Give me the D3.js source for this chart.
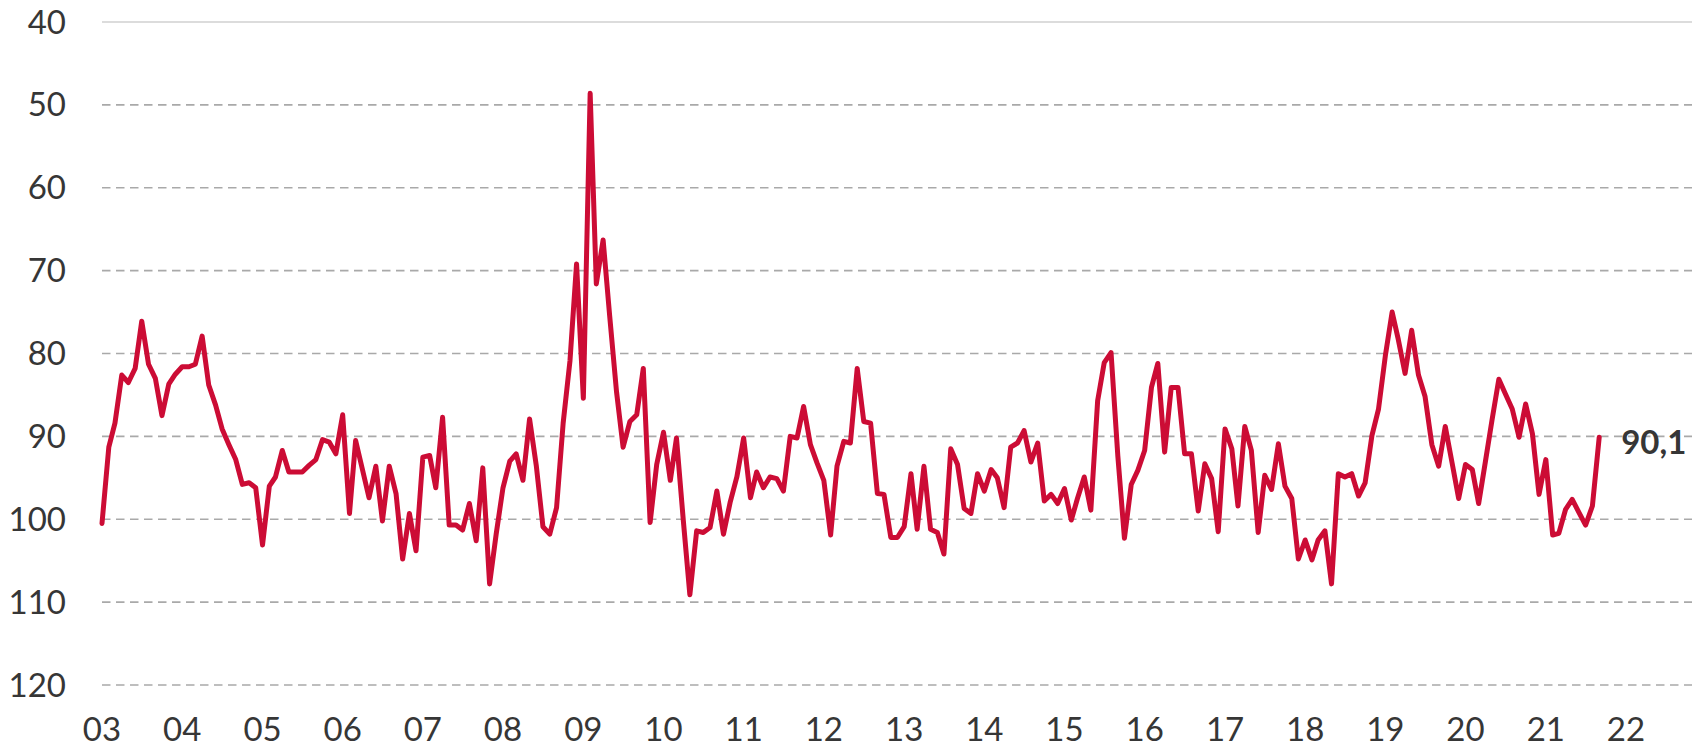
<!DOCTYPE html>
<html><head><meta charset="utf-8">
<script src="https://cdn.jsdelivr.net/npm/d3@7/dist/d3.min.js"></script>
<style>
body{margin:0;background:#fff;}
svg{display:block;font-family:Lato,"Open Sans",sans-serif;}
</style>
</head><body>
<svg id="chart" width="1692" height="751"></svg>
<script>
// Monthly values, Jan 2003 onward
const startYear = 2003;
const values = [
100.5,91.3,88.4,82.6,83.5,81.8,76.1,81.3,83.0,87.5,83.7,82.5,
81.6,81.6,81.3,77.9,83.8,86.2,89.1,91.0,92.8,95.8,95.6,96.2,
103.1,96.0,94.9,91.7,94.3,94.3,94.3,93.5,92.8,90.4,90.7,92.1,
87.4,99.3,90.5,94.0,97.4,93.6,100.2,93.6,96.9,104.8,99.3,103.8,
92.5,92.3,96.2,87.7,100.7,100.7,101.3,98.1,102.6,93.8,107.8,101.8,
96.2,93.0,92.1,95.3,87.9,93.6,100.9,101.8,98.6,88.4,80.9,69.2,
85.4,48.6,71.6,66.3,75.5,84.6,91.3,88.2,87.4,81.8,100.4,93.4,
89.5,95.3,90.2,100.1,109.1,101.4,101.6,101.0,96.6,101.8,97.9,94.9,
90.2,97.4,94.3,96.2,94.9,95.1,96.6,90.0,90.2,86.4,91.0,93.2,
95.3,101.9,93.6,90.6,90.8,81.8,88.2,88.4,96.9,97.0,102.2,102.2,
100.9,94.5,101.2,93.6,101.2,101.6,104.2,91.5,93.4,98.7,99.3,94.5,
96.6,94.0,95.0,98.6,91.3,90.8,89.3,93.1,90.8,97.8,97.0,98.1,
96.3,100.1,97.5,94.9,98.9,85.7,81.1,79.9,92.4,102.3,95.8,94.1,
91.7,84.1,81.2,91.9,84.1,84.1,92.1,92.1,99.0,93.3,95.1,101.5,
89.1,91.5,98.4,88.8,91.7,101.6,94.7,96.4,90.9,96.0,97.5,104.8,
102.5,104.9,102.5,101.4,107.8,94.5,94.9,94.5,97.2,95.6,89.9,86.7,
80.3,75.0,78.3,82.4,77.2,82.6,85.2,91.0,93.6,88.8,93.2,97.5,
93.4,94.0,98.1,93.0,88.0,83.1,84.9,86.7,90.1,86.1,89.7,97.0,
92.8,101.9,101.7,98.8,97.6,99.2,100.7,98.4,90.1
];
const yTicks = [40,50,60,70,80,90,100,110,120];
const xTickYears = [2003,2004,2005,2006,2007,2008,2009,2010,2011,2012,2013,2014,2015,2016,2017,2018,2019,2020,2021,2022];
const xTickLabels = ["03","04","05","06","07","08","09","10","11","12","13","14","15","16","17","18","19","20","21","22"];
const lastLabel = "90,1";

const W = 1692, H = 751;
const plotLeft = 102, plotRight = 1692, xEnd = 1626;
const svg = d3.select("#chart");

const data = values.map((v,i)=>({date:new Date(startYear, i, 1), v}));
const x = d3.scaleTime()
  .domain([new Date(xTickYears[0],0,1), new Date(xTickYears[xTickYears.length-1],0,1)])
  .range([plotLeft, xEnd]);
const y = d3.scaleLinear().domain([40,120]).range([22, 685]);

const textColor = "#363636";
const fs = 33;

// Gridlines
svg.append("g").selectAll("line").data(yTicks).join("line")
  .attr("x1", plotLeft).attr("x2", plotRight)
  .attr("y1", d=>y(d)).attr("y2", d=>y(d))
  .attr("stroke", d=> d===40 ? "#dcdcdc" : "#a9a9a9")
  .attr("stroke-width", d=> d===40 ? 2 : 1.6)
  .attr("stroke-dasharray", d=> d===40 ? null : "8.5,5.5");

// Y labels
svg.append("g").selectAll("text").data(yTicks).join("text")
  .attr("x", 66).attr("y", d=>y(d)).attr("dy","0.35em")
  .attr("text-anchor","end")
  .attr("fill", textColor).attr("font-size", fs)
  .text(d=>d);

// X labels
svg.append("g").selectAll("text").data(xTickYears).join("text")
  .attr("x", d=>x(new Date(d,0,1))).attr("y", 729).attr("dy","0.35em")
  .attr("text-anchor","middle")
  .attr("fill", textColor).attr("font-size", fs)
  .text((d,i)=>xTickLabels[i]);

// Line
const line = d3.line().x(d=>x(d.date)).y(d=>y(d.v));
svg.append("path").datum(data)
  .attr("d", line)
  .attr("fill","none")
  .attr("stroke","#cc0c35")
  .attr("stroke-width",5)
  .attr("stroke-linejoin","round")
  .attr("stroke-linecap","round");

// Last value label
const last = data[data.length-1];
svg.append("text")
  .attr("x", x(last.date) + 22).attr("y", y(last.v) + 5).attr("dy","0.35em")
  .attr("fill", textColor).attr("font-size", fs).attr("font-weight","bold")
  .text(lastLabel);
</script>
</body></html>
